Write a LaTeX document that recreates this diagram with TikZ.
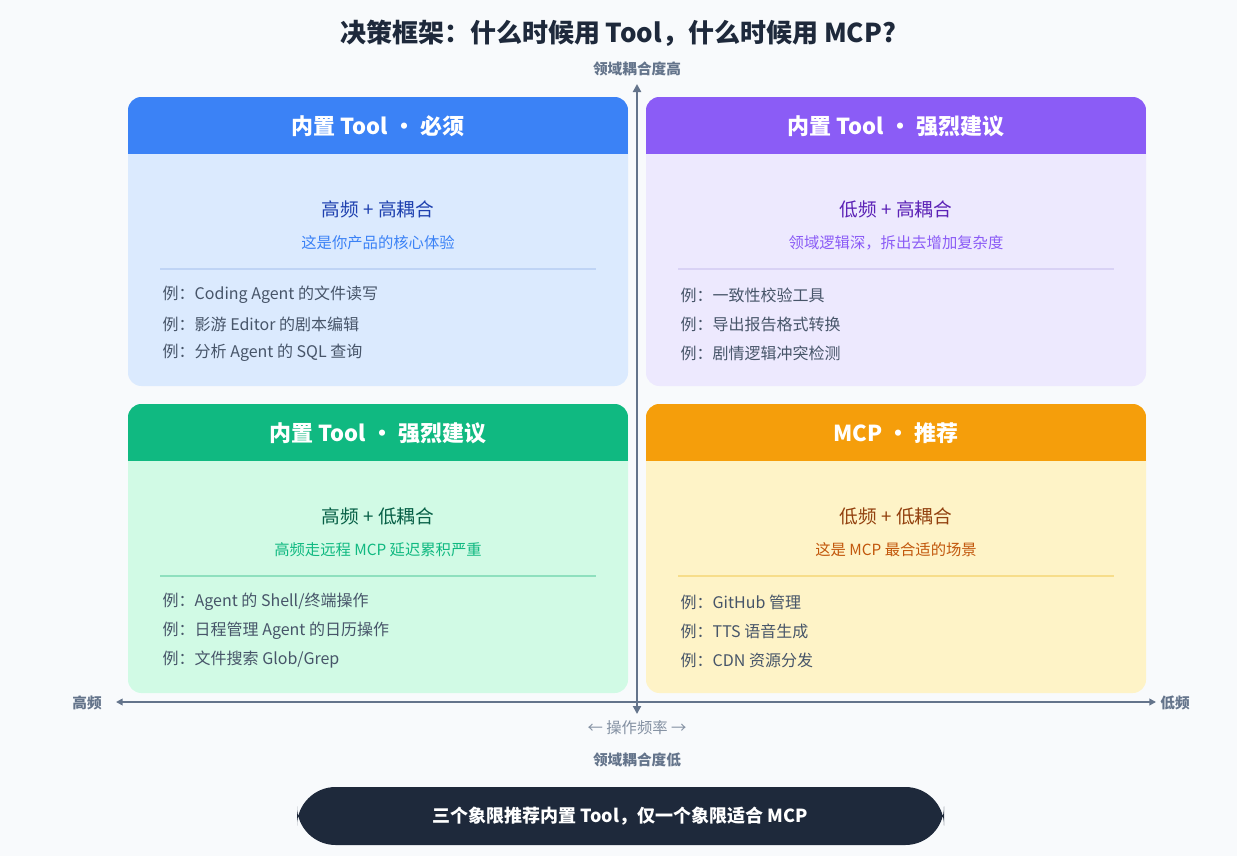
\documentclass[tikz,border=0pt]{standalone}
\usepackage{fontspec}
\setmainfont{Noto Sans CJK SC}
\usetikzlibrary{arrows.meta}
\definecolor{bg}{HTML}{F8FAFC}
\definecolor{dark}{HTML}{1E293B}
\definecolor{axis}{HTML}{64748B}
\definecolor{exc}{HTML}{475569}
\definecolor{hA}{HTML}{3B82F6}\definecolor{bA}{HTML}{DBEAFE}\definecolor{tA}{HTML}{1E40AF}\definecolor{sA}{HTML}{3B82F6}\definecolor{lA}{HTML}{BFD4F5}
\definecolor{hB}{HTML}{8B5CF6}\definecolor{bB}{HTML}{EDE9FE}\definecolor{tB}{HTML}{5B21B6}\definecolor{sB}{HTML}{8B5CF6}\definecolor{lB}{HTML}{D9D2F5}
\definecolor{hC}{HTML}{10B981}\definecolor{bC}{HTML}{D1FAE5}\definecolor{tC}{HTML}{065F46}\definecolor{sC}{HTML}{10B981}\definecolor{lC}{HTML}{8EE0BE}
\definecolor{hD}{HTML}{F59E0B}\definecolor{bD}{HTML}{FEF3C7}\definecolor{tD}{HTML}{92400E}\definecolor{sD}{HTML}{C2570C}\definecolor{lD}{HTML}{F7DD8A}
\tikzset{
 hdr/.style={text=white,font=\bfseries\fontsize{16.5}{18}\selectfont},
 sub/.style={font=\fontsize{14}{16}\selectfont},
 sub2/.style={font=\fontsize{11.5}{13}\selectfont},
 ex/.style={anchor=west,text=exc,font=\fontsize{12}{14}\selectfont},
 axl/.style={text=axis,font=\bfseries\fontsize{11}{13}\selectfont},
}
\newcommand{\quadbox}[9]{% x y id title sub sub2 ex1 ex2 ex3
 \fill[b#3,rounded corners=10] (#1,#2) rectangle ++(500,289);
 \begin{scope}\clip[rounded corners=10] (#1,#2) rectangle ++(500,289);
 \fill[h#3] (#1,#2) rectangle ++(500,57);\end{scope}
 \node[hdr] (h#3) at (#1+250,#2+29) {#4};
 \node[sub,text=t#3] (s#3) at (#1+250,#2+112) {#5};
 \node[sub2,text=s#3] (ss#3) at (#1+250,#2+146) {#6};
 \draw[l#3,line width=1] (#1+32,#2+172) -- (#1+468,#2+172);
 \node[ex] (e1#3) at (#1+30,#2+198) {#7};
 \node[ex] (e2#3) at (#1+30,#2+227) {#8};
 \node[ex] (e3#3) at (#1+30,#2+256) {#9};
}
\begin{document}
\begin{tikzpicture}[x=0.75pt,y=-0.75pt]
\fill[bg] (0,0) rectangle (1237,856);
\useasboundingbox (0,0) rectangle (1237,856);
\node[text=dark,font=\bfseries\fontsize{19.5}{22}\selectfont] (title) at (618,33) {决策框架：什么时候用 Tool，什么时候用 MCP?};
\quadbox{128}{97}{A}{内置 Tool · 必须}{高频 + 高耦合}{这是你产品的核心体验}{例：Coding Agent 的文件读写}{例：影游 Editor 的剧本编辑}{例：分析 Agent 的 SQL 查询}
\quadbox{646}{97}{B}{内置 Tool · 强烈建议}{低频 + 高耦合}{领域逻辑深，拆出去增加复杂度}{例：一致性校验工具}{例：导出报告格式转换}{例：剧情逻辑冲突检测}
\quadbox{128}{404}{C}{内置 Tool · 强烈建议}{高频 + 低耦合}{高频走远程 MCP 延迟累积严重}{例：Agent 的 Shell/终端操作}{例：日程管理 Agent 的日历操作}{例：文件搜索 Glob/Grep}
\quadbox{646}{404}{D}{MCP · 推荐}{低频 + 低耦合}{这是 MCP 最合适的场景}{例：GitHub 管理}{例：TTS 语音生成}{例：CDN 资源分发}
\coordinate (vt) at (637,84); \coordinate (vb) at (637,714);
\coordinate (hl) at (116,702); \coordinate (hr) at (1156,702);
\draw[axis,line width=2.2,{Triangle[length=6pt,width=6pt]}-{Triangle[length=6pt,width=6pt]}] (vb) -- (vt);
\draw[axis,line width=2.2,{Triangle[length=5pt,width=5pt]}-{Triangle[length=5pt,width=5pt]}] (hl) -- (hr);
\node[axl] (yh) at (637,69) {领域耦合度高};
\node[axl] (yl) at (637,760) {领域耦合度低};
\node[axl] (xh) at (87,703) {高频};
\node[axl] (xl) at (1175,703) {低频};
\node[text=axis!80,font=\fontsize{11.5}{13}\selectfont] (xf) at (637,728) {← 操作频率 →};
\fill[dark,rounded corners=29] (297,787) rectangle (944,845);
\node[text=white,font=\bfseries\fontsize{13.5}{15}\selectfont] (pill) at (620,816) {三个象限推荐内置 Tool，仅一个象限适合 MCP};
\end{tikzpicture}
\end{document}
